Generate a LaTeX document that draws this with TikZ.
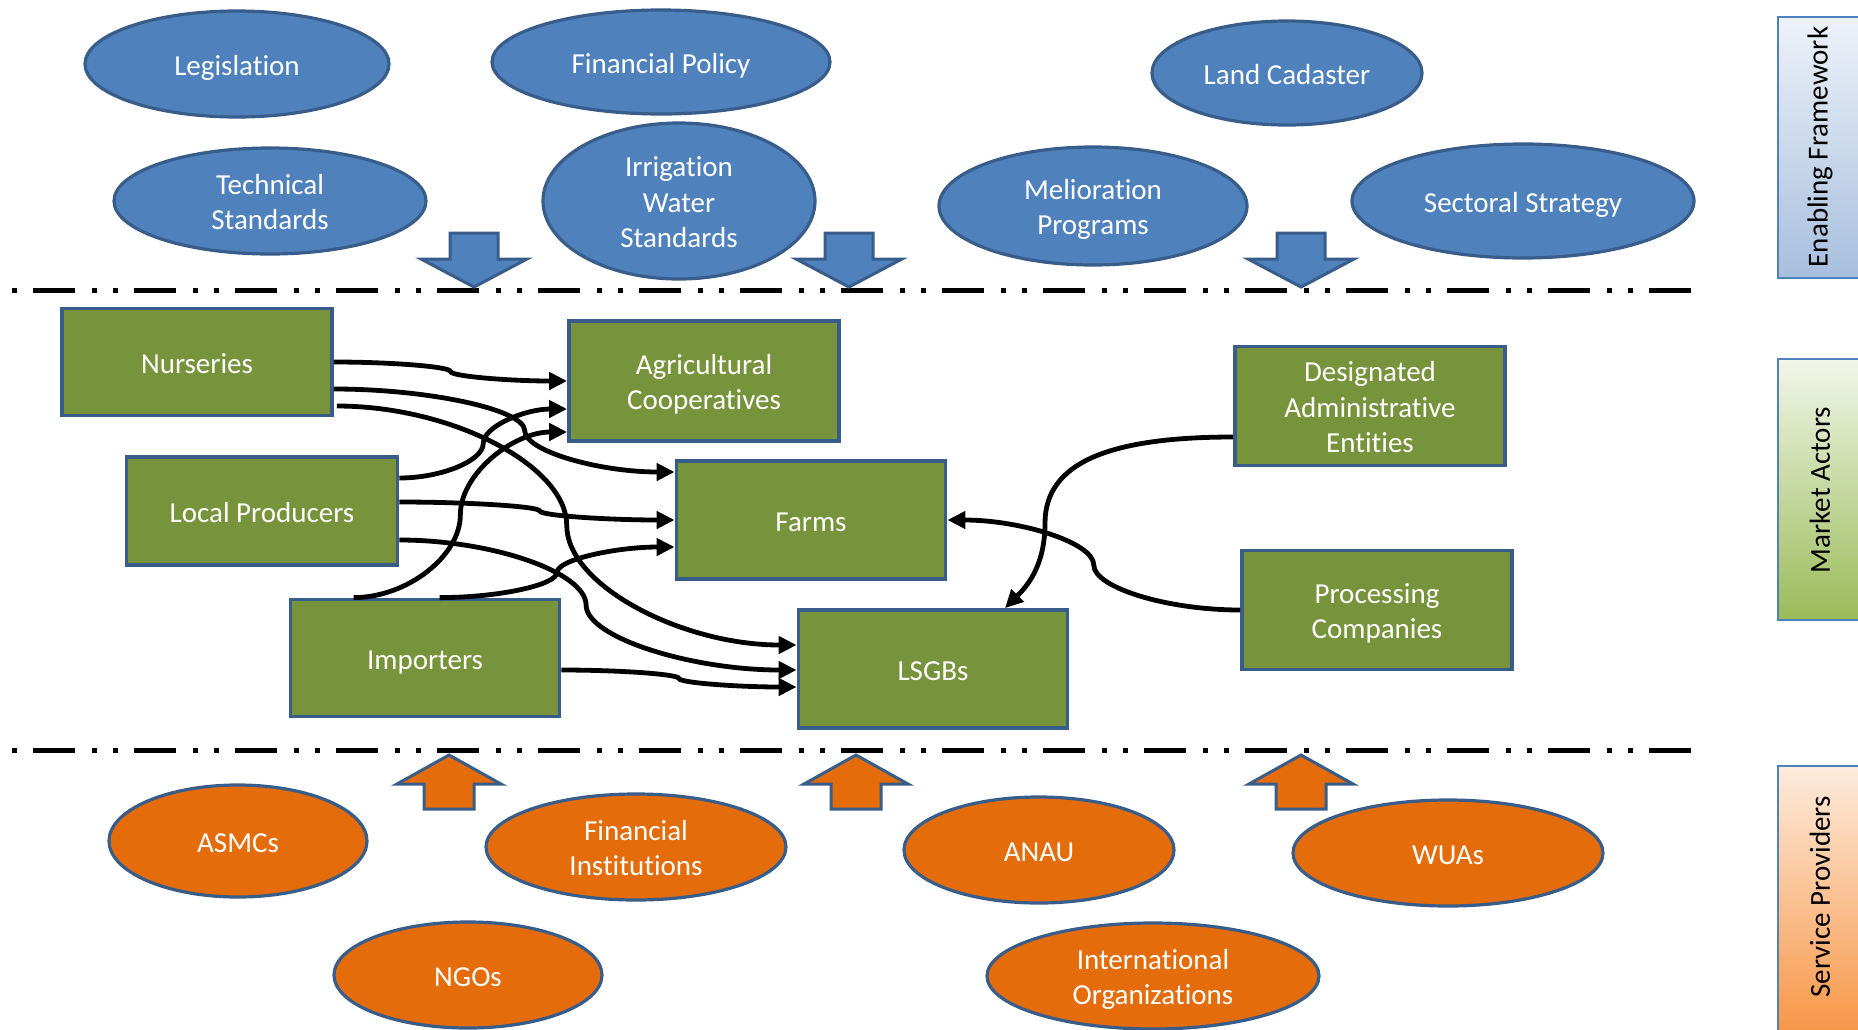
\documentclass[tikz,border=0pt]{standalone}
\usepackage{fontspec}
\setmainfont{Carlito}[Ligatures={NoCommon}]
\usetikzlibrary{shapes.geometric,arrows.meta,calc}
\definecolor{blueF}{HTML}{4F81BD}
\definecolor{edgeC}{HTML}{385D8A}
\definecolor{greenF}{HTML}{77933C}
\definecolor{orangeF}{HTML}{E46C0A}
\definecolor{enTop}{HTML}{EEF2F9}
\definecolor{enBot}{HTML}{A7BFDE}
\definecolor{maTop}{HTML}{F1F6E9}
\definecolor{maBot}{HTML}{9BBB59}
\definecolor{spTop}{HTML}{FDEBDD}
\definecolor{spBot}{HTML}{F79646}
\newcommand\lnstrut{\rule[-6pt]{0pt}{35.6pt}}
\newcommand\topstr{\rule{0pt}{28pt}}
\newcommand\curvconn[3]{%
  \draw[conn] let \p1=(#1), \p2=(#2), \n1={\x1+#3*(\x2-\x1)} in
  (\p1) .. controls ({(\x1+\n1)/2},\y1) and (\n1,{\y1+(\y2-\y1)/4}) .. (\n1,{(\y1+\y2)/2})
  .. controls (\n1,{\y1+3*(\y2-\y1)/4}) and ({(\n1+\x2)/2},\y2) .. (\p2);}
\begin{document}
\begin{tikzpicture}[x=1pt,y=1pt,
  txt/.style={font=\fontsize{29}{35.5}\selectfont, align=center, inner sep=0pt},
  shp/.style={txt, execute at begin node=\lnstrut, execute at end node=\lnstrut, text=white},
  bell/.style={shp, ellipse, draw=edgeC, line width=3.2pt, fill=blueF},
  oell/.style={bell, fill=orangeF},
  gbox/.style={shp, rectangle, draw=edgeC, line width=3.8pt, fill=greenF},
  conn/.style={line width=4.8pt, -{Triangle[length=18pt,width=17pt]}},
  sepline/.style={line width=5pt, dash pattern=on 42pt off 17pt on 5pt off 16pt on 5pt off 16pt, dash phase=80pt},
  sidebar/.style={draw=blueF, line width=2pt},
  sidelabel/.style={txt, rotate=90, text=black},
  downarr/.pic={\draw[draw=edgeC, fill=blueF, line width=3pt] (-24,-233) -- (24,-233) -- (24,-259) -- (53,-259) -- (0,-287) -- (-53,-259) -- (-24,-259) -- cycle;},
  uparr/.pic={\draw[draw=edgeC, fill=orangeF, line width=3pt] (-25,-809) -- (25,-809) -- (25,-784) -- (52,-784) -- (0,-755) -- (-52,-784) -- (-25,-784) -- cycle;}
]
\useasboundingbox (0,0) rectangle (1858,-1029);

% side bars
\begin{scope}
\clip (0,0) rectangle (1858,-1029);
\draw[sidebar, top color=enTop, bottom color=enBot] (1778,-17) rectangle (1864,-278);
\draw[sidebar, top color=maTop, bottom color=maBot] (1778,-359) rectangle (1864,-620);
\draw[sidebar, top color=spTop, bottom color=spBot] (1778,-766) rectangle (1864,-1034);
\end{scope}
\node[sidelabel] (lblEF) at (1820,-147) {Enabling Framework};
\node[sidelabel] (lblMA) at (1820,-490) {Market Actors};
\node[sidelabel] (lblSP) at (1820,-897) {Service Providers};

% separator lines
\draw[sepline] (12,-290) -- (1698,-290);
\draw[sepline] (12,-750) -- (1698,-750);

% enabling framework
\node[bell, minimum width=304pt, minimum height=106pt] (legis) at (237,-64) {Legislation};
\node[bell, minimum width=338pt, minimum height=104pt] (finpol) at (661,-62) {Financial Policy};
\node[bell, minimum width=270pt, minimum height=104pt] (landcad) at (1287,-73) {Land Cadaster};
\node[bell, minimum width=312pt, minimum height=106pt] (techstd) at (270,-201) {\topstr Technical\\Standards};
\node[bell, minimum width=272pt, minimum height=156pt] (irrig) at (679,-201) {\topstr Irrigation\\Water\\Standards};
\node[bell, minimum width=308pt, minimum height=118pt] (melio) at (1093,-206) {\topstr Melioration\\Programs};
\node[bell, minimum width=342pt, minimum height=114pt] (sector) at (1523,-201) {Sectoral Strategy};

\pic at (474,0) {downarr};
\pic at (849,0) {downarr};
\pic at (1301,0) {downarr};

% market actors
\node[gbox, minimum width=270pt, minimum height=107pt] (nurs) at (197,-362) {Nurseries};
\node[gbox, minimum width=270pt, minimum height=120pt] (agri) at (704,-381) {\topstr Agricultural\\Cooperatives};
\node[gbox, minimum width=271pt, minimum height=108pt] (lp) at (262,-511) {Local Producers};
\node[gbox, minimum width=269pt, minimum height=118pt] (farms) at (811,-520) {Farms};
\node[gbox, minimum width=269pt, minimum height=117pt] (imp) at (425,-658) {Importers};
\node[gbox, minimum width=269pt, minimum height=118pt] (lsgb) at (933,-669) {LSGBs};
\node[gbox, minimum width=270pt, minimum height=119pt] (dae) at (1370,-406) {\topstr Designated\\Administrative\\Entities};
\node[gbox, minimum width=270pt, minimum height=119pt] (proc) at (1377,-610) {\topstr Processing\\Companies};

% connectors
\curvconn{nurs.east}{agri.west}{0.5}
\curvconn{$(nurs.east)+(0,-27)$}{$(farms.west)+(0,48)$}{0.56}
\curvconn{$(nurs.east)+(3,-44)$}{$(lsgb.west)+(0,24)$}{0.5}
\curvconn{$(lp.east)+(0,33)$}{$(agri.west)+(0,-28)$}{0.5}
\curvconn{$(lp.east)+(0,9)$}{farms.west}{0.51}
\curvconn{$(lp.east)+(0,-29)$}{$(lsgb.west)+(0,-1)$}{0.47}
\curvconn{$(imp.north west)+(65,0)$}{$(agri.west)+(0,-51)$}{0.5}
\curvconn{$(imp.north west)+(151,0)$}{$(farms.west)+(0,-27)$}{0.5}
\curvconn{$(imp.east)+(0,-12)$}{$(lsgb.west)+(0,-18)$}{0.5}
\curvconn{proc.west}{farms.east}{0.5}
\draw[conn] ($(dae.west)+(0,-31)$) .. controls ($(dae.west)+(-125,-31)$) and ($(lsgb.north)+(112,145)$) .. ($(lsgb.north)+(112,85)$)
  .. controls ($(lsgb.north)+(112,40)$) and ($(lsgb.north)+(92,20)$) .. ($(lsgb.north)+(72,0)$);

% service providers
\pic at (449,0) {uparr};
\pic at (856,0) {uparr};
\pic at (1301,0) {uparr};

\node[oell, minimum width=258pt, minimum height=112pt] (asmc) at (238,-841) {ASMCs};
\node[oell, minimum width=300pt, minimum height=106pt] (finin) at (636,-847) {\topstr Financial\\Institutions};
\node[oell, minimum width=270pt, minimum height=106pt] (anau) at (1039,-850) {ANAU};
\node[oell, minimum width=310pt, minimum height=106pt] (wuas) at (1448,-853) {WUAs};
\node[oell, minimum width=268pt, minimum height=106pt] (ngos) at (468,-975) {NGOs};
\node[oell, minimum width=332pt, minimum height=106pt] (intorg) at (1153,-976) {\topstr International\\Organizations};
\end{tikzpicture}
\end{document}
